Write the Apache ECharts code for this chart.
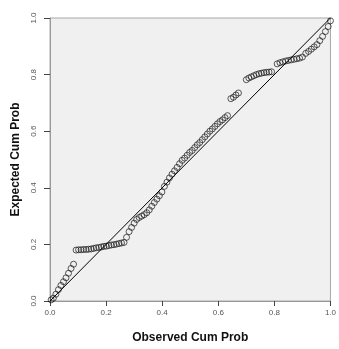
<!DOCTYPE html>
<html>
<head>
<meta charset="utf-8">
<script src="https://cdn.jsdelivr.net/npm/echarts@6/dist/echarts.min.js"></script>
<style>
html, body { margin: 0; padding: 0; background: #fff; }
#chart { width: 339px; height: 349px; }
</style>
</head>
<body>
<div id="chart"></div>
<script>
// observed cum prob (x) and expected cum prob (y)
var observed = [
    0.004, 0.012, 0.021, 0.030, 0.039, 0.048, 0.057, 0.066, 0.075, 0.084,
    0.093, 0.102, 0.111, 0.120, 0.129, 0.138, 0.147,
    0.156, 0.165, 0.174, 0.183, 0.192, 0.201, 0.210, 0.219, 0.228, 0.237, 0.246, 0.255, 0.264,
    0.273, 0.282, 0.291, 0.300, 0.309,
    0.318, 0.327, 0.336, 0.345, 0.354, 0.363, 0.372, 0.381, 0.390, 0.399,
    0.408, 0.417, 0.426, 0.435, 0.444, 0.453, 0.462, 0.471, 0.480, 0.489, 0.498,
    0.507, 0.516, 0.525, 0.534, 0.543, 0.552, 0.561, 0.570, 0.579, 0.588, 0.597, 0.606,
    0.615, 0.624, 0.633,
    0.645, 0.654, 0.663, 0.672,
    0.700, 0.709, 0.718, 0.727, 0.736, 0.745, 0.754, 0.763, 0.772, 0.781, 0.790,
    0.810, 0.820, 0.830, 0.840, 0.850, 0.860, 0.870, 0.880, 0.890, 0.900,
    0.912, 0.922, 0.932, 0.942, 0.952,
    0.962, 0.972, 0.982, 0.992, 1.000
];
var expected = [
    0.004, 0.010, 0.024, 0.040, 0.055, 0.068, 0.082, 0.098, 0.115, 0.130,
    0.180, 0.181, 0.181, 0.182, 0.182, 0.183, 0.184,
    0.186, 0.188, 0.189, 0.191, 0.193, 0.194, 0.196, 0.198, 0.199, 0.201, 0.203, 0.205, 0.207,
    0.225, 0.245, 0.260, 0.275, 0.288,
    0.295, 0.300, 0.305, 0.312, 0.322, 0.335, 0.348, 0.360, 0.372, 0.385,
    0.405, 0.420, 0.435, 0.448, 0.460, 0.472, 0.485, 0.497, 0.505, 0.515, 0.525,
    0.532, 0.542, 0.552, 0.560, 0.570, 0.580, 0.590, 0.600, 0.608, 0.617, 0.626, 0.634,
    0.640, 0.648, 0.655,
    0.715, 0.720, 0.728, 0.735,
    0.782, 0.788, 0.792, 0.796, 0.800, 0.803, 0.805, 0.807, 0.808, 0.809, 0.810,
    0.838, 0.842, 0.845, 0.848, 0.850, 0.852, 0.854, 0.856, 0.858, 0.862,
    0.875, 0.882, 0.890, 0.898, 0.906,
    0.920, 0.935, 0.952, 0.970, 0.990
];
var refLine = [[0, 0], [1, 1]];

var points = observed.map(function (x, i) { return [x, expected[i]]; });

var option = {
    animation: false,
    grid: {
        left: 50, right: 6, top: 18, bottom: 45,
        show: true,
        backgroundColor: '#f0f0f0',
        borderColor: '#a8a8a8',
        borderWidth: 1
    },
    xAxis: {
        type: 'value',
        min: 0, max: 1, interval: 0.2,
        name: 'Observed Cum Prob',
        nameLocation: 'middle',
        nameGap: 31,
        nameTextStyle: { fontFamily: 'Liberation Sans', fontWeight: 'bold', fontSize: 12, color: '#111' },
        axisLine: { show: true, lineStyle: { color: '#999' } },
        axisTick: { show: true, length: 5, lineStyle: { color: '#444' } },
        axisLabel: { margin: 8, fontSize: 8, color: '#555', fontFamily: 'Liberation Sans',
            formatter: function (v) { return v.toFixed(1); } },
        splitLine: { show: false }
    },
    yAxis: {
        type: 'value',
        min: 0, max: 1, interval: 0.2,
        name: 'Expected Cum Prob',
        nameLocation: 'middle',
        nameGap: 28,
        nameTextStyle: { fontFamily: 'Liberation Sans', fontWeight: 'bold', fontSize: 12, color: '#111' },
        axisLine: { show: true, lineStyle: { color: '#999' } },
        axisTick: { show: true, length: 6, lineStyle: { color: '#444' } },
        axisLabel: { margin: 12, rotate: 90, fontSize: 8, color: '#555', fontFamily: 'Liberation Sans',
            formatter: function (v) { return v.toFixed(1); } },
        splitLine: { show: false }
    },
    series: [
        {
            type: 'line',
            data: refLine,
            symbol: 'none',
            lineStyle: { color: '#000', width: 1 },
            z: 3
        },
        {
            type: 'scatter',
            data: points,
            symbol: 'circle',
            symbolSize: 6,
            itemStyle: { color: 'rgba(0,0,0,0)', borderColor: '#1a1a1a', borderWidth: 0.9 },
            z: 2
        }
    ]
};

var myChart = echarts.init(document.getElementById('chart'));
myChart.setOption(option);
</script>
</body>
</html>
